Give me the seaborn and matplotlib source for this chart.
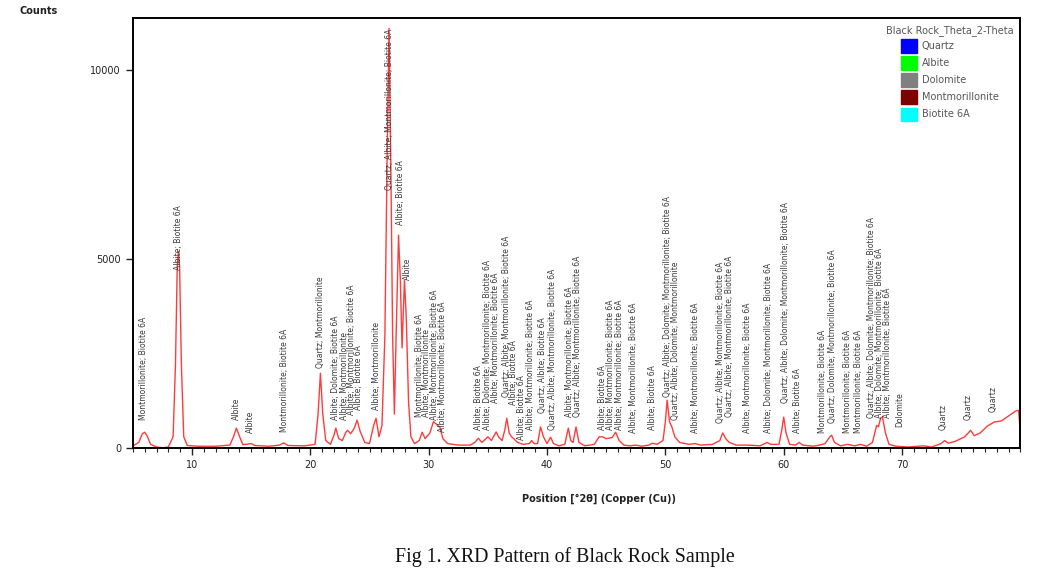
import numpy as np
import pandas as pd
import matplotlib
matplotlib.use("Agg")
import matplotlib.pyplot as plt
from matplotlib.patches import Patch
import seaborn as sns

# XRD trace (2-theta in degrees, counts)
two_theta = [5.0, 5.5, 5.8, 6.0, 6.2, 6.5, 7.0, 7.5, 8.0, 8.4, 8.6, 8.75, 8.85, 8.95, 9.1, 9.3, 9.6,
             10.5, 12.0, 13.2, 13.5, 13.75, 14.0, 14.3, 14.8, 15.0, 15.3, 16.5, 17.4, 17.75, 18.1,
             19.5, 20.4, 20.65, 20.85, 21.05, 21.3, 21.7, 22.0, 22.15, 22.4, 22.7, 23.0, 23.15, 23.4,
             23.7, 23.95, 24.2, 24.6, 25.0, 25.35, 25.55, 25.8, 26.05, 26.3, 26.5, 26.65, 26.8, 26.95,
             27.1, 27.25, 27.45, 27.6, 27.75, 27.95, 28.1, 28.3, 28.5, 28.8, 29.2, 29.45, 29.7, 30.1,
             30.4, 30.7, 30.95, 31.2, 31.6, 32.5, 33.5, 33.9, 34.2, 34.5, 35.0, 35.3, 35.7, 35.9,
             36.2, 36.45, 36.6, 36.8, 37.0, 37.2, 37.5, 38.0, 38.5, 38.7, 38.9, 39.2, 39.45, 39.7,
             40.0, 40.3, 40.55, 41.0, 41.5, 41.8, 42.0, 42.2, 42.45, 42.7, 43.2, 44.0, 44.4, 44.7,
             45.0, 45.5, 45.8, 46.1, 46.5, 47.0, 47.5, 48.0, 48.6, 48.9, 49.3, 49.8, 50.0, 50.15,
             50.35, 50.55, 50.8, 51.2, 52.0, 52.5, 53.0, 54.0, 54.6, 54.85, 55.1, 55.4, 56.0, 57.0,
             58.0, 58.6, 58.9, 59.6, 59.85, 60.0, 60.2, 60.5, 61.0, 61.3, 61.6, 62.5, 63.0, 63.5,
             63.9, 64.05, 64.3, 64.8, 65.4, 66.0, 66.5, 67.0, 67.5, 67.85, 68.0, 68.2, 68.35, 68.6,
             68.9, 69.5, 70.5, 71.8, 72.5, 73.3, 73.6, 73.9, 74.5, 75.3, 75.8, 76.1, 76.6, 77.2,
             77.8, 78.4, 79.0, 79.6, 79.85, 79.95, 80.0]
counts = [60, 150, 380, 420, 330, 100, 30, 10, 30, 300, 2200, 4800, 5200, 4800, 2200, 300, 70,
          50, 50, 80, 300, 530, 320, 90, 110, 120, 70, 50, 80, 140, 70,
          60, 100, 900, 1980, 900, 200, 100, 350, 530, 250, 200, 420, 470, 380,
          520, 740, 450, 150, 120, 600, 790, 300, 600, 3000, 8000, 11100, 7500, 3000,
          900, 3000, 5630, 4500, 2650, 4440, 3500, 1200, 300, 120, 200, 420, 250, 400,
          700, 620, 550, 250, 120, 80, 80, 150, 260, 150, 300, 200, 430, 300,
          200, 500, 790, 400, 300, 250, 150, 100, 120, 200, 120, 120, 560, 300,
          120, 290, 120, 60, 100, 530, 200, 150, 560, 150, 60, 100, 300, 300,
          250, 280, 420, 200, 80, 60, 80, 50, 80, 130, 100, 200, 700, 1270,
          700, 560, 300, 150, 100, 120, 80, 100, 200, 400, 250, 150, 80, 80,
          60, 150, 100, 100, 500, 820, 400, 100, 80, 150, 80, 50, 80, 120,
          300, 340, 150, 60, 100, 60, 100, 50, 150, 600, 560, 800, 820, 400,
          100, 50, 30, 60, 30, 120, 200, 130, 180, 300, 470, 330, 400, 580,
          690, 720, 850, 980, 1000, 600, 250]

# Phase labels above the peaks: position, base height, text
label_pos = [5.86, 8.82, 13.72, 14.9, 17.78, 20.82, 22.1, 22.9, 23.5, 24.1, 25.55,
             26.65, 27.58, 28.17, 29.2, 29.85, 30.5, 31.15, 34.18, 34.94, 35.61, 36.55, 37.2,
             37.85, 38.57, 39.59, 40.43, 41.87, 42.54, 44.66, 45.4, 46.15, 47.28, 48.88, 50.15,
             50.85, 52.52, 54.7, 55.4, 56.9, 58.69, 60.13, 61.14, 63.25, 64.1, 65.37, 66.3,
             67.45, 68.1, 68.75, 69.85, 73.48, 75.6, 77.71]
label_base = [740, 4710, 740, 400, 420, 2120, 740, 740, 870, 1000, 1000,
              6830, 5900, 4440, 820, 820, 740, 420, 480, 480, 1190, 1350, 1140,
              210, 480, 930, 480, 820, 820, 480, 480, 480, 400, 480, 1350,
              740, 400, 660, 820, 400, 400, 1190, 400, 400, 660, 400, 400,
              790, 790, 790, 560, 480, 740, 950]
label_text = [
    "Montmorillonite; Biotite 6A", "Albite; Biotite 6A", "Albite", "Albite",
    "Montmorillonite; Biotite 6A", "Quartz; Montmorillonite", "Albite; Dolomite; Biotite 6A",
    "Albite; Montmorillonite", "Albite; Montmorillonite; Biotite 6A", "Albite; Biotite 6A",
    "Albite; Montmorillonite", "Quartz; Albite; Montmorillonite; Biotite 6A",
    "Albite; Biotite 6A", "Albite", "Montmorillonite; Biotite 6A", "Albite; Montmorillonite",
    "Albite; Montmorillonite; Biotite 6A", "Albite; Montmorillonite; Biotite 6A",
    "Albite; Biotite 6A", "Albite; Dolomite; Montmorillonite; Biotite 6A",
    "Albite; Montmorillonite; Biotite 6A", "Quartz; Albite; Montmorillonite; Biotite 6A",
    "Albite; Biotite 6A", "Albite; Biotite 6A", "Albite; Montmorillonite; Biotite 6A",
    "Quartz; Albite; Biotite 6A", "Quartz; Albite; Montmorillonite; Biotite 6A",
    "Albite; Montmorillonite; Biotite 6A", "Quartz; Albite; Montmorillonite; Biotite 6A",
    "Albite; Biotite 6A", "Albite; Montmorillonite; Biotite 6A",
    "Albite; Montmorillonite; Biotite 6A", "Albite; Montmorillonite; Biotite 6A",
    "Albite; Biotite 6A", "Quartz; Albite; Dolomite; Montmorillonite; Biotite 6A",
    "Quartz; Albite; Dolomite; Montmorillonite", "Albite; Montmorillonite; Biotite 6A",
    "Quartz; Albite; Montmorillonite; Biotite 6A", "Quartz; Albite; Montmorillonite; Biotite 6A",
    "Albite; Montmorillonite; Biotite 6A", "Albite; Dolomite; Montmorillonite; Biotite 6A",
    "Quartz; Albite; Dolomite; Montmorillonite; Biotite 6A", "Albite; Biotite 6A",
    "Montmorillonite; Biotite 6A", "Quartz; Dolomite; Montmorillonite; Biotite 6A",
    "Montmorillonite; Biotite 6A", "Montmorillonite; Biotite 6A",
    "Quartz; Albite; Dolomite; Montmorillonite; Biotite 6A",
    "Albite; Dolomite; Montmorillonite; Biotite 6A", "Albite; Montmorillonite; Biotite 6A",
    "Dolomite", "Quartz", "Quartz", "Quartz"]

phases = ["Quartz", "Albite", "Dolomite", "Montmorillonite", "Biotite 6A"]
phase_colors = ["#0000ff", "#00ff00", "#808080", "#800000", "#00ffff"]

sns.set_style("ticks")
plt.rcParams['font.family'] = ['DejaVu Sans']

df = pd.DataFrame({"two_theta": two_theta, "counts": counts})

fig = plt.figure(figsize=(10.38, 5.76), dpi=100)
ax = fig.add_axes([0.128, 0.222, 0.855, 0.747])

sns.lineplot(data=df, x="two_theta", y="counts", ax=ax, color="#ff3b3b", linewidth=1.0, sort=False)

for x, y, t in zip(label_pos, label_base, label_text):
    ax.text(x, y, t, rotation=90, ha="center", va="bottom", fontsize=5.5, color="#3a3a3a")

ax.set_xlim(5, 80)
ax.set_ylim(0, 11380)
ax.set_xticks([10, 20, 30, 40, 50, 60, 70])
ax.set_xticks(np.arange(5, 81, 1), minor=True)
ax.set_yticks([0, 5000, 10000])
ax.tick_params(axis="both", which="major", labelsize=7, length=5, width=1, colors="#222222")
ax.tick_params(axis="x", which="minor", length=3, width=0.8)
for s in ax.spines.values():
    s.set_linewidth(1.4)
    s.set_color("black")

ax.set_xlabel("Position [°2θ] (Copper (Cu))", fontsize=7, fontweight="bold", color="#222222")
ax.xaxis.set_label_coords(0.525, -0.105)
ax.set_ylabel("")
fig.text(0.019, 0.981, "Counts", fontsize=7, fontweight="bold", color="#222222", ha="left", va="center")

handles = [Patch(facecolor=c, edgecolor=c) for c in phase_colors]
leg = ax.legend(handles, phases, title="Black Rock_Theta_2-Theta", loc="upper right",
                bbox_to_anchor=(1.0, 1.0), frameon=False, fontsize=7, title_fontsize=7,
                handlelength=1.7, handleheight=1.7, handletextpad=0.5, labelspacing=0.4,
                borderaxespad=0.3)
leg.get_title().set_color("#555555")
for t in leg.get_texts():
    t.set_color("#555555")

fig.text(0.544, 0.033, "Fig 1. XRD Pattern of Black Rock Sample", fontsize=14.3,
         family="Liberation Serif", ha="center", va="center", color="#111111")

fig.savefig("out.png", dpi=100)
